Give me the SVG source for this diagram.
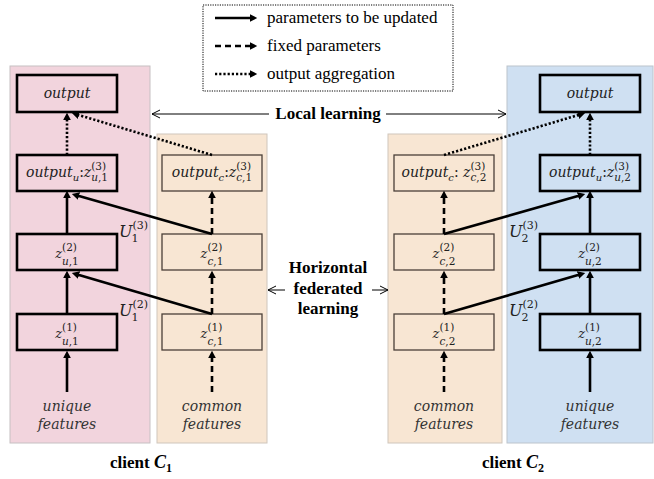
<svg xmlns="http://www.w3.org/2000/svg" width="654" height="479" viewBox="0 0 654 479">
<style>
.pink{fill:#f2d4dd;stroke:#c6c0c2;stroke-width:1}
.orange{fill:#f8e6d3;stroke:#cfc6bc;stroke-width:1}
.blue{fill:#cfe0f2;stroke:#bcc4cc;stroke-width:1}
.ubox{fill:none;stroke:#000;stroke-width:2.6}
.cbox{fill:none;stroke:#4a4038;stroke-width:1.3}
.m{font-family:"DejaVu Serif",serif;font-style:italic;fill:#222}
.up{font-style:normal}
.feat{font-family:"DejaVu Serif",serif;font-style:italic;fill:#333;font-size:14px;text-anchor:middle}
.bold{font-family:"Liberation Serif","Times New Roman",serif;font-weight:bold;fill:#000;font-size:17px}
.leg{font-family:"Liberation Serif","Times New Roman",serif;fill:#000;font-size:17px}
.solid{stroke:#000;stroke-width:2.6;fill:none;marker-end:url(#ah)}
.dash{stroke:#000;stroke-width:2.6;fill:none;stroke-dasharray:6 4;marker-end:url(#ah)}
.dot{stroke:#000;stroke-width:2.6;fill:none;stroke-dasharray:2.2 2;marker-end:url(#ah)}
.thin{stroke:#000;stroke-width:1;fill:none;marker-end:url(#open)}
</style>
<defs>
<marker id="ah" viewBox="0 0 8 8" refX="1.8" refY="4" markerWidth="8" markerHeight="8" markerUnits="userSpaceOnUse" orient="auto"><path d="M0,0 L7.5,4 L0,8 z" fill="#000"/></marker>
<marker id="open" viewBox="0 0 10 10" refX="9" refY="5" markerWidth="10" markerHeight="10" markerUnits="userSpaceOnUse" orient="auto"><path d="M1,1 L9,5 L1,9" fill="none" stroke="#000" stroke-width="1"/></marker>
</defs>

<!-- panels -->
<rect class="pink" x="10" y="66" width="140" height="377"/>
<rect class="orange" x="157" y="134" width="110" height="309"/>
<rect class="orange" x="388" y="134" width="114" height="309"/>
<rect class="blue" x="507" y="66" width="146" height="377"/>

<!-- legend -->
<g id="legend">
<rect x="203" y="5" width="250" height="86" fill="none" stroke="#000" stroke-width="1" stroke-dasharray="1.2 1.2"/>
<line class="solid" x1="215" y1="18" x2="251.5" y2="18"/>
<line class="dash" x1="215" y1="46" x2="251.5" y2="46" stroke-dasharray="5 3"/>
<line class="dot" x1="215" y1="74" x2="251.5" y2="74"/>
<text class="leg" x="267" y="23">parameters to be updated</text>
<text class="leg" x="267" y="51">fixed parameters</text>
<text class="leg" x="267" y="79">output aggregation</text>
</g>

<!-- client 1 nodes -->
<g id="c1-output"><rect class="ubox" x="17" y="75" width="100" height="37"/><text class="m" x="67" y="98" font-size="14" text-anchor="middle">output</text></g>
<g id="c1-out-u"><rect class="ubox" x="17" y="155" width="100" height="36"/><text class="m" x="67" y="177" font-size="14" text-anchor="middle">output<tspan font-size="10" dy="4">u</tspan><tspan class="up" dy="-4">:</tspan>z<tspan class="up" font-size="10.5" dy="-7">(3)</tspan><tspan font-size="10.5" dx="-14.9" dy="11">u</tspan><tspan class="up" font-size="10.5">,1</tspan></text></g>
<g id="c1-zu2"><rect class="ubox" x="17" y="234" width="100" height="36"/><text class="m" x="67" y="258" font-size="13" text-anchor="middle">z<tspan class="up" font-size="10.5" dy="-7">(2)</tspan><tspan font-size="10.5" dx="-14.9" dy="14">u</tspan><tspan class="up" font-size="10.5">,1</tspan></text></g>
<g id="c1-zu1"><rect class="ubox" x="17" y="314" width="100" height="36"/><text class="m" x="67" y="338" font-size="13" text-anchor="middle">z<tspan class="up" font-size="10.5" dy="-7">(1)</tspan><tspan font-size="10.5" dx="-14.9" dy="14">u</tspan><tspan class="up" font-size="10.5">,1</tspan></text></g>
<g id="c1-unique"><text class="feat" x="67" y="411">unique</text><text class="feat" x="67" y="429">features</text></g>

<g id="c1-out-c"><rect class="cbox" x="162" y="155" width="100" height="36"/><text class="m" x="212" y="177" font-size="14" text-anchor="middle">output<tspan font-size="10" dy="4">c</tspan><tspan class="up" dy="-4">:</tspan>z<tspan class="up" font-size="10.5" dy="-7">(3)</tspan><tspan font-size="10.5" dx="-14.9" dy="11">c</tspan><tspan class="up" font-size="10.5">,1</tspan></text></g>
<g id="c1-zc2"><rect class="cbox" x="162" y="234" width="100" height="36"/><text class="m" x="212" y="258" font-size="13" text-anchor="middle">z<tspan class="up" font-size="10.5" dy="-7">(2)</tspan><tspan font-size="10.5" dx="-14.9" dy="14">c</tspan><tspan class="up" font-size="10.5">,1</tspan></text></g>
<g id="c1-zc1"><rect class="cbox" x="162" y="314" width="100" height="36"/><text class="m" x="212" y="338" font-size="13" text-anchor="middle">z<tspan class="up" font-size="10.5" dy="-7">(1)</tspan><tspan font-size="10.5" dx="-14.9" dy="14">c</tspan><tspan class="up" font-size="10.5">,1</tspan></text></g>
<g id="c1-common"><text class="feat" x="212" y="411">common</text><text class="feat" x="212" y="429">features</text></g>

<!-- client 2 nodes -->
<g id="c2-output"><rect class="ubox" x="540" y="75" width="100" height="37"/><text class="m" x="590" y="98" font-size="14" text-anchor="middle">output</text></g>
<g id="c2-out-u"><rect class="ubox" x="540" y="155" width="100" height="36"/><text class="m" x="590" y="177" font-size="14" text-anchor="middle">output<tspan font-size="10" dy="4">u</tspan><tspan class="up" dy="-4">:</tspan>z<tspan class="up" font-size="10.5" dy="-7">(3)</tspan><tspan font-size="10.5" dx="-14.9" dy="11">u</tspan><tspan class="up" font-size="10.5">,2</tspan></text></g>
<g id="c2-zu2"><rect class="ubox" x="540" y="234" width="100" height="36"/><text class="m" x="590" y="258" font-size="13" text-anchor="middle">z<tspan class="up" font-size="10.5" dy="-7">(2)</tspan><tspan font-size="10.5" dx="-14.9" dy="14">u</tspan><tspan class="up" font-size="10.5">,2</tspan></text></g>
<g id="c2-zu1"><rect class="ubox" x="540" y="314" width="100" height="36"/><text class="m" x="590" y="338" font-size="13" text-anchor="middle">z<tspan class="up" font-size="10.5" dy="-7">(1)</tspan><tspan font-size="10.5" dx="-14.9" dy="14">u</tspan><tspan class="up" font-size="10.5">,2</tspan></text></g>
<g id="c2-unique"><text class="feat" x="590" y="411">unique</text><text class="feat" x="590" y="429">features</text></g>

<g id="c2-out-c"><rect class="cbox" x="394" y="155" width="100" height="36"/><text class="m" x="444" y="177" font-size="14" text-anchor="middle">output<tspan font-size="10" dy="4">c</tspan><tspan class="up" dy="-4">: </tspan>z<tspan class="up" font-size="10.5" dy="-7">(3)</tspan><tspan font-size="10.5" dx="-14.9" dy="11">c</tspan><tspan class="up" font-size="10.5">,2</tspan></text></g>
<g id="c2-zc2"><rect class="cbox" x="394" y="234" width="100" height="36"/><text class="m" x="444" y="258" font-size="13" text-anchor="middle">z<tspan class="up" font-size="10.5" dy="-7">(2)</tspan><tspan font-size="10.5" dx="-14.9" dy="14">c</tspan><tspan class="up" font-size="10.5">,2</tspan></text></g>
<g id="c2-zc1"><rect class="cbox" x="394" y="314" width="100" height="36"/><text class="m" x="444" y="338" font-size="13" text-anchor="middle">z<tspan class="up" font-size="10.5" dy="-7">(1)</tspan><tspan font-size="10.5" dx="-14.9" dy="14">c</tspan><tspan class="up" font-size="10.5">,2</tspan></text></g>
<g id="c2-common"><text class="feat" x="444" y="411">common</text><text class="feat" x="444" y="429">features</text></g>

<!-- connectors -->
<g id="connectors">
<line class="solid" x1="67" y1="392" x2="67" y2="356.5"/>
<line class="solid" x1="67" y1="314" x2="67" y2="276.5"/>
<line class="solid" x1="67" y1="234" x2="67" y2="196.5"/>
<line class="dot" x1="67" y1="155" x2="67" y2="118.5"/>
<line class="solid" x1="212" y1="314" x2="77.3" y2="274.5"/>
<line class="solid" x1="212" y1="234" x2="77.3" y2="195.5"/>
<line class="dot" x1="212" y1="155" x2="77.3" y2="114.6"/>
<line class="dash" x1="212" y1="392" x2="212" y2="356.5"/>
<line class="dash" x1="212" y1="314" x2="212" y2="276.5"/>
<line class="dash" x1="212" y1="234" x2="212" y2="196.5"/>

<line class="solid" x1="590" y1="392" x2="590" y2="356.5"/>
<line class="solid" x1="590" y1="314" x2="590" y2="276.5"/>
<line class="solid" x1="590" y1="234" x2="590" y2="196.5"/>
<line class="dot" x1="590" y1="155" x2="590" y2="118.5"/>
<line class="solid" x1="444" y1="314" x2="579.7" y2="274.5"/>
<line class="solid" x1="444" y1="234" x2="579.7" y2="195.5"/>
<line class="dot" x1="444" y1="155" x2="579.7" y2="114.6"/>
<line class="dash" x1="444" y1="392" x2="444" y2="356.5"/>
<line class="dash" x1="444" y1="314" x2="444" y2="276.5"/>
<line class="dash" x1="444" y1="234" x2="444" y2="196.5"/>

<line class="thin" x1="269" y1="114" x2="152" y2="114"/>
<line class="thin" x1="386" y1="114" x2="506" y2="114"/>
<line class="thin" x1="285" y1="290" x2="268" y2="290"/>
<line class="thin" x1="372" y1="290" x2="388" y2="290"/>
</g>

<!-- weight labels -->
<text class="m" x="119" y="237" font-size="16">U<tspan class="up" font-size="11" dy="-8">(3)</tspan><tspan class="up" font-size="11" dx="-16.5" dy="13">1</tspan></text>
<text class="m" x="119" y="316" font-size="16">U<tspan class="up" font-size="11" dy="-8">(2)</tspan><tspan class="up" font-size="11" dx="-16.5" dy="13">1</tspan></text>
<text class="m" x="509" y="237" font-size="16">U<tspan class="up" font-size="11" dy="-8">(3)</tspan><tspan class="up" font-size="11" dx="-16.5" dy="13">2</tspan></text>
<text class="m" x="509" y="316" font-size="16">U<tspan class="up" font-size="11" dy="-8">(2)</tspan><tspan class="up" font-size="11" dx="-16.5" dy="13">2</tspan></text>

<text class="bold" x="328" y="119" text-anchor="middle">Local learning</text>
<text class="bold" x="328" y="273" text-anchor="middle">Horizontal</text>
<text class="bold" x="328" y="294" text-anchor="middle">federated</text>
<text class="bold" x="328" y="314" text-anchor="middle">learning</text>

<text class="bold" x="110" y="468">client <tspan font-style="italic" font-size="18">C</tspan><tspan font-size="12" dy="4">1</tspan></text>
<text class="bold" x="482" y="468">client <tspan font-style="italic" font-size="18">C</tspan><tspan font-size="12" dy="4">2</tspan></text>
</svg>
